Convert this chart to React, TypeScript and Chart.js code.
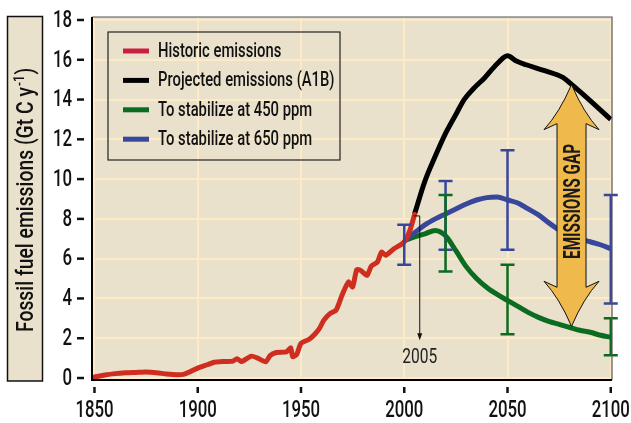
import React, { useEffect, useRef } from "react";
import { Chart, registerables } from "chart.js";
Chart.register(...registerables);

// ---------- data ----------
const histYears = [1850, 1855, 1860, 1865, 1870, 1875, 1880, 1885, 1890, 1893, 1896, 1900, 1905, 1908, 1913, 1917, 1919, 1921, 1922, 1926, 1929, 1933, 1935, 1938, 1943, 1945, 1946, 1948, 1950, 1954, 1957, 1959, 1961, 1964, 1967, 1970, 1973, 1975, 1977, 1979, 1982, 1984, 1987, 1989, 1991, 1995, 1999, 2001, 2003, 2005];
const histValues = [0.05, 0.15, 0.22, 0.26, 0.28, 0.3, 0.27, 0.2, 0.16, 0.18, 0.3, 0.5, 0.68, 0.79, 0.83, 0.85, 0.97, 0.84, 0.86, 1.1, 1.0, 0.82, 1.12, 1.28, 1.32, 1.52, 1.07, 1.2, 1.74, 1.95, 2.24, 2.5, 2.9, 3.24, 3.41, 4.2, 4.83, 4.58, 5.45, 5.4, 5.16, 5.62, 5.83, 6.33, 6.17, 6.5, 6.75, 7.0, 7.5, 8.22];

const a1bYears = [2005, 2010, 2015, 2020, 2025, 2029, 2034, 2039, 2045, 2050, 2054, 2059, 2068, 2077, 2080, 2090, 2100];
const a1bValues = [8.25, 9.9, 11.15, 12.3, 13.25, 14.0, 14.6, 15.1, 15.8, 16.2, 15.95, 15.75, 15.45, 15.1, 14.85, 13.95, 13.0];

const s450Years = [2000, 2005, 2010, 2015, 2020, 2025, 2030, 2035, 2040, 2045, 2050, 2055, 2060, 2065, 2070, 2075, 2080, 2085, 2090, 2095, 2100];
const s450Values = [6.9, 7.1, 7.25, 7.42, 7.15, 6.4, 5.6, 5.0, 4.55, 4.2, 3.9, 3.6, 3.3, 3.05, 2.85, 2.7, 2.55, 2.4, 2.3, 2.15, 2.05];

const s650Years = [2000, 2005, 2010, 2015, 2020, 2025, 2030, 2035, 2040, 2045, 2050, 2055, 2060, 2065, 2070, 2075, 2080, 2085, 2090, 2095, 2100];
const s650Values = [6.9, 7.3, 7.7, 8.0, 8.25, 8.5, 8.75, 8.95, 9.07, 9.1, 8.95, 8.8, 8.5, 8.2, 7.8, 7.45, 7.2, 7.0, 6.85, 6.7, 6.5];

const err650Years = [2000, 2020, 2050, 2100];
const err650Low = [5.7, 6.45, 6.45, 3.75];
const err650High = [7.7, 9.9, 11.45, 9.2];

const err450Years = [2020, 2050, 2100];
const err450Low = [5.35, 2.2, 1.15];
const err450High = [9.2, 5.7, 3.0];

const xTickValues = [1850, 1900, 1950, 2000, 2050, 2100];
const yTickValues = [0, 2, 4, 6, 8, 10, 12, 14, 16, 18];

const seriesLabels = ["Historic emissions", "Projected emissions (A1B)", "To stabilize at 450 ppm", "To stabilize at 650 ppm"];
const yTitle = "Fossil fuel emissions (Gt C y";
const yTitleSup = "-1";
const gapLabel = "EMISSIONS GAP";
const markerLabel = "2005";
const markerYear = 2007.5;
const gapYear = 2081;
const gapTop = 14.75;
const gapBottom = 2.6;

// ---------- styles ----------
const FONT = 'Roboto, "DejaVu Sans Condensed", sans-serif';
const RED = "#cf2d1f";
const RED_LEGEND = "#c9203e";
const BLACK = "#000000";
const GREEN = "#0b6b1f";
const BLUE = "#38479b";
const BEIGE = "#e9e1cc";
const GRID = "#fcebc6";
const GOLD = "#f0b94c";

const pts = (xs: number[], ys: number[]) => xs.map((x, i) => ({ x, y: ys[i] }));

function sq(ctx: CanvasRenderingContext2D, t: string, x: number, y: number, f: number) {
  const w = ctx.measureText(t).width;
  ctx.fillText(t, x, y, w * f);
  return w * f;
}

const decor = {
  id: "decor",
  beforeDraw(chart: any) {
    const { ctx, chartArea: a } = chart;
    ctx.save();
    ctx.fillStyle = "#ffffff";
    ctx.fillRect(0, 0, chart.width, chart.height);
    ctx.fillStyle = BEIGE;
    ctx.fillRect(a.left, a.top, a.right - a.left, a.bottom - a.top);
    // y title box
    const bx = 7.5, bw = 35, by = a.top - 0.5, bh = a.bottom - a.top + 1.5;
    ctx.fillRect(bx, by, bw, bh);
    ctx.strokeStyle = "#111";
    ctx.lineWidth = 1.5;
    ctx.strokeRect(bx, by, bw, bh);
    // title text
    ctx.translate(bx + bw / 2 + 1, 200);
    ctx.rotate(-Math.PI / 2);
    ctx.fillStyle = "#111";
    ctx.textBaseline = "middle";
    ctx.textAlign = "left";
    const mainFont = `500 23px ${FONT}`;
    const supFont = `500 14px ${FONT}`;
    ctx.font = mainFont;
    const n1 = ctx.measureText(yTitle).width;
    const n3 = ctx.measureText(")").width;
    ctx.font = supFont;
    const n2 = ctx.measureText(yTitleSup).width;
    const f = 264 / (n1 + n2 + n3 + 2);
    let x = -264 / 2;
    ctx.font = mainFont;
    x += sq(ctx, yTitle, x, 1, f);
    ctx.font = supFont;
    x += sq(ctx, yTitleSup, x + 1, -6, f) + 2;
    ctx.font = mainFont;
    sq(ctx, ")", x, 1, f);
    ctx.restore();
  },
  afterDatasetsDraw(chart: any) {
    const { ctx, chartArea: a, scales } = chart;
    const xs = scales.x, ys = scales.y;
    const px = (v: number) => xs.getPixelForValue(v);
    const py = (v: number) => ys.getPixelForValue(v);
    ctx.save();

    // error bars
    const bars = (years: number[], lo: number[], hi: number[], color: string) => {
      ctx.strokeStyle = color;
      ctx.lineWidth = 2.5;
      years.forEach((yr, i) => {
        const x = px(yr);
        ctx.beginPath();
        ctx.moveTo(x, py(lo[i]));
        ctx.lineTo(x, py(hi[i]));
        ctx.moveTo(x - 7, py(lo[i]));
        ctx.lineTo(x + 7, py(lo[i]));
        ctx.moveTo(x - 7, py(hi[i]));
        ctx.lineTo(x + 7, py(hi[i]));
        ctx.stroke();
      });
    };
    bars(err650Years, err650Low, err650High, BLUE);
    bars(err450Years, err450Low, err450High, GREEN);

    // 2005 marker
    const mx = px(markerYear);
    const startX = px(a1bYears[0]) - 1;
    const topY = py(a1bValues[0]) + 2;
    const botY = py(1.9);
    ctx.strokeStyle = "#111";
    ctx.lineWidth = 1;
    ctx.beginPath();
    ctx.moveTo(startX, topY);
    ctx.lineTo(mx, topY);
    ctx.lineTo(mx, botY - 5);
    ctx.stroke();
    ctx.fillStyle = "#111";
    ctx.beginPath();
    ctx.moveTo(mx - 2.5, botY - 7);
    ctx.lineTo(mx + 2.5, botY - 7);
    ctx.lineTo(mx, botY);
    ctx.closePath();
    ctx.fill();
    ctx.font = `21px ${FONT}`;
    ctx.textAlign = "center";
    ctx.textBaseline = "middle";
    ctx.fillStyle = "#222";
    sq(ctx, markerLabel, mx, py(1.0), 0.74);

    // emissions gap arrow
    const cx = px(gapYear);
    const t = py(gapTop), b = py(gapBottom);
    const hh = 27.5, sh = 14.5, hl = 45, hj = 39;
    ctx.beginPath();
    ctx.moveTo(cx, t);
    ctx.quadraticCurveTo(cx + 12, t + 28, cx + hh, t + hl);
    ctx.lineTo(cx + sh, t + hj);
    ctx.lineTo(cx + sh, b - hj);
    ctx.lineTo(cx + hh, b - hl);
    ctx.quadraticCurveTo(cx + 12, b - 28, cx, b);
    ctx.quadraticCurveTo(cx - 12, b - 28, cx - hh, b - hl);
    ctx.lineTo(cx - sh, b - hj);
    ctx.lineTo(cx - sh, t + hj);
    ctx.lineTo(cx - hh, t + hl);
    ctx.quadraticCurveTo(cx - 12, t + 28, cx, t);
    ctx.closePath();
    ctx.fillStyle = GOLD;
    ctx.fill();
    ctx.strokeStyle = "#111";
    ctx.lineWidth = 1;
    ctx.stroke();
    ctx.save();
    ctx.translate(cx + 1.5, (t + b) / 2 - 4);
    ctx.rotate(-Math.PI / 2);
    ctx.font = `bold 23px ${FONT}`;
    ctx.fillStyle = "#1a1a1a";
    ctx.textAlign = "center";
    ctx.textBaseline = "middle";
    ctx.fillText(gapLabel, 0, 1, 115);
    ctx.restore();

    // legend
    const lx = a.left + 16, ly = a.top + 15, lw = 232, lh = 128;
    ctx.strokeStyle = "#222";
    ctx.lineWidth = 1.2;
    ctx.strokeRect(lx, ly, lw, lh);
    const legendColors = [RED_LEGEND, BLACK, GREEN, BLUE];
    seriesLabels.forEach((lab, i) => {
      const yy = ly + 19 + i * 29.4;
      ctx.strokeStyle = legendColors[i];
      ctx.lineWidth = 5;
      ctx.beginPath();
      ctx.moveTo(lx + 15, yy);
      ctx.lineTo(lx + 41, yy);
      ctx.stroke();
      ctx.fillStyle = "#111";
      ctx.font = `500 20px ${FONT}`;
      ctx.textAlign = "left";
      ctx.textBaseline = "middle";
      sq(ctx, lab, lx + 50, yy + 1, 0.74);
    });

    // plot borders
    ctx.strokeStyle = "#555";
    ctx.lineWidth = 1.2;
    ctx.beginPath();
    ctx.moveTo(a.left, a.top);
    ctx.lineTo(a.right, a.top);
    ctx.lineTo(a.right, a.bottom);
    ctx.stroke();
    ctx.strokeStyle = "#000";
    ctx.lineWidth = 2;
    ctx.beginPath();
    ctx.moveTo(a.left, a.top);
    ctx.lineTo(a.left, a.bottom);
    ctx.lineTo(a.right, a.bottom);
    ctx.stroke();

    // ticks and labels
    ctx.fillStyle = "#111";
    ctx.strokeStyle = "#111";
    ctx.lineWidth = 2.5;
    ctx.font = `500 23px ${FONT}`;
    ctx.textAlign = "right";
    ctx.textBaseline = "middle";
    yTickValues.forEach((v) => {
      const y = py(v);
      ctx.beginPath();
      ctx.moveTo(a.left - 15, y);
      ctx.lineTo(a.left - 8, y);
      ctx.stroke();
      sq(ctx, String(v), a.left - 20, y + 1, 0.73);
    });
    ctx.textAlign = "center";
    xTickValues.forEach((v) => {
      const x = px(v);
      ctx.beginPath();
      ctx.moveTo(x, a.bottom + 7);
      ctx.lineTo(x, a.bottom + 13);
      ctx.stroke();
      sq(ctx, String(v), x, a.bottom + 31, 0.73);
    });
    ctx.restore();
  },
};

export default function App() {
  const ref = useRef<HTMLCanvasElement | null>(null);
  useEffect(() => {
    if (!ref.current) return;
    const chart = new Chart(ref.current, {
      type: "line",
      data: {
        datasets: [
          { label: seriesLabels[0], data: pts(histYears, histValues), borderColor: RED, borderWidth: 5, pointRadius: 0, tension: 0.2, order: 0, borderJoinStyle: "round", borderCapStyle: "round" },
          { label: seriesLabels[1], data: pts(a1bYears, a1bValues), borderColor: BLACK, borderWidth: 5, pointRadius: 0, cubicInterpolationMode: "monotone", order: 1, borderJoinStyle: "round" },
          { label: seriesLabels[2], data: pts(s450Years, s450Values), borderColor: GREEN, borderWidth: 5, pointRadius: 0, cubicInterpolationMode: "monotone", order: 3 },
          { label: seriesLabels[3], data: pts(s650Years, s650Values), borderColor: BLUE, borderWidth: 5, pointRadius: 0, cubicInterpolationMode: "monotone", order: 2 },
        ] as any,
      },
      options: {
        responsive: false,
        animation: false,
        devicePixelRatio: 1,
        parsing: false as any,
        layout: { padding: { left: 92, top: 17, right: 19, bottom: 43 } },
        plugins: { legend: { display: false }, tooltip: { enabled: false } },
        scales: {
          x: {
            type: "linear",
            min: 1848.8,
            max: 2100.6,
            afterBuildTicks: (s: any) => { s.ticks = xTickValues.map((v) => ({ value: v })); },
            ticks: { display: false },
            grid: { color: GRID, lineWidth: 2, drawTicks: false },
            border: { display: false },
          },
          y: {
            type: "linear",
            min: -0.1,
            max: 18.15,
            afterBuildTicks: (s: any) => { s.ticks = yTickValues.map((v) => ({ value: v })); },
            ticks: { display: false },
            grid: { color: GRID, lineWidth: 2, drawTicks: false },
            border: { display: false },
          },
        },
      } as any,
      plugins: [decor],
    });
    return () => chart.destroy();
  }, []);
  return (
    <div style={{ position: "absolute", left: 0, top: 0, width: 631, height: 423 }}>
      <canvas ref={ref} width={631} height={423} style={{ display: "block" }} />
    </div>
  );
}
